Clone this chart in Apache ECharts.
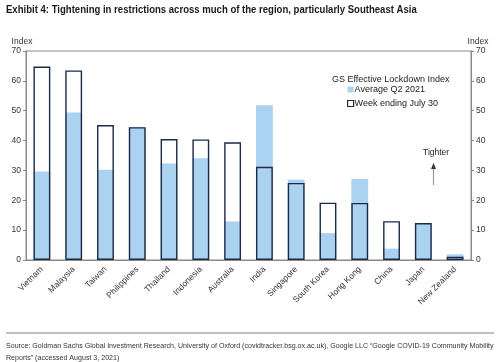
<!DOCTYPE html>
<html><head><meta charset="utf-8">
<script src="https://cdn.jsdelivr.net/npm/echarts@6/dist/echarts.min.js"></script>
<style>html,body{margin:0;padding:0;background:#fff}#c{width:500px;height:362px}</style>
</head><body><div id="c"></div>
<script>
const categories = ['Vietnam','Malaysia','Taiwan','Philippines','Thailand','Indonesia','Australia','India','Singapore','South Korea','Hong Kong','China','Japan','New Zealand'];
const avgQ2 = [29.6, 49.4, 30.2, 44.5, 32.3, 34.1, 12.9, 51.8, 26.9, 9.0, 27.1, 3.8, 12.4, 1.9];
const weekJuly30 = [64.8, 63.5, 45.2, 44.5, 40.5, 40.4, 39.4, 31.2, 25.8, 19.2, 19.1, 13.0, 12.4, 1.1];
const yTicks = {min: 0, max: 70, interval: 10};

const fillColor = '#abd2f1';
const edgeColor = '#1c2a45';
const axisGrey = '#8a8a8a';
const sans = "'Liberation Sans', Arial, sans-serif";

const chart = echarts.init(document.getElementById('c'), null, {renderer: 'canvas'});
const yAxisBase = (pos) => ({
  type: 'value', position: pos, min: yTicks.min, max: yTicks.max, interval: yTicks.interval,
  name: 'Index', nameLocation: 'end', nameGap: 5,
  nameTextStyle: {fontFamily: sans, fontSize: 8.5, color: '#333', align: 'center', padding: pos === 'left' ? [0, 8, 0, 0] : [0, 0, 0, 14]},
  axisLine: {show: true, lineStyle: {color: axisGrey, width: 1}},
  axisTick: {show: true, length: 3, inside: false, lineStyle: {color: axisGrey}},
  axisLabel: {fontFamily: sans, fontSize: 8.5, color: '#333', margin: 5},
  splitLine: {show: false}
});
chart.setOption({
  animation: false,
  backgroundColor: '#fff',
  grid: {left: 26, right: 29, top: 51, bottom: 102, show: true, borderColor: axisGrey, borderWidth: 1},
  legend: {
    orient: 'vertical', left: 342, top: 80, itemWidth: 6, itemHeight: 6, itemGap: 5,
    textStyle: {fontFamily: sans, fontSize: 9, color: '#222', padding: [0, 0, 0, -4]},
    data: [
      {name: 'Average Q2 2021', icon: 'rect', itemStyle: {color: fillColor, borderWidth: 0}},
      {name: 'Week ending July 30', icon: 'rect', itemStyle: {color: '#fff', borderColor: edgeColor, borderWidth: 1.2}}
    ]
  },
  xAxis: {
    type: 'category', data: categories,
    axisLine: {show: true, lineStyle: {color: axisGrey}},
    axisTick: {show: false},
    axisLabel: {rotate: 45, interval: 0, fontFamily: sans, fontSize: 8.5, color: '#333', margin: 8}
  },
  yAxis: [yAxisBase('left'), yAxisBase('right')],
  series: [
    {name: 'Average Q2 2021', type: 'bar', data: avgQ2, barWidth: '53%', barGap: '-100%',
     itemStyle: {color: fillColor}, z: 2},
    {name: 'Week ending July 30', type: 'bar', data: weekJuly30, barWidth: '53%', barGap: '-100%',
     itemStyle: {color: 'rgba(0,0,0,0)', borderColor: edgeColor, borderWidth: 1.4}, z: 3}
  ],
  graphic: [
    {type: 'text', x: 6, y: 5, scaleX: 0.91, style: {text: 'Exhibit 4: Tightening in restrictions across much of the region, particularly Southeast Asia', font: "bold 10.5px 'Liberation Sans', Arial", fill: '#1a1a1a'}},
    {type: 'text', left: 332, top: 75, style: {text: 'GS Effective Lockdown Index', font: "9px 'Liberation Sans', Arial", fill: '#222'}},
    {type: 'text', left: 423, top: 148, style: {text: 'Tighter', font: "8.5px 'Liberation Sans', Arial", fill: '#222'}},
    {type: 'line', shape: {x1: 433.5, y1: 185, x2: 433.5, y2: 168}, style: {stroke: '#999', lineWidth: 1.2}},
    {type: 'polygon', shape: {points: [[433.5, 163], [431, 169], [436, 169]]}, style: {fill: '#333'}},
    {type: 'line', shape: {x1: 6, y1: 333, x2: 494, y2: 333}, style: {stroke: '#aaa', lineWidth: 1.5}},
    {type: 'text', x: 6, y: 340, scaleX: 0.885, style: {text: 'Source: Goldman Sachs Global Investment Research, University of Oxford (covidtracker.bsg.ox.ac.uk), Google LLC \u201cGoogle COVID-19 Community Mobility\nReports\u201d (accessed August 3, 2021)', font: "8px 'Liberation Sans', Arial", fill: '#333', lineHeight: 12}}
  ]
});
</script></body></html>
